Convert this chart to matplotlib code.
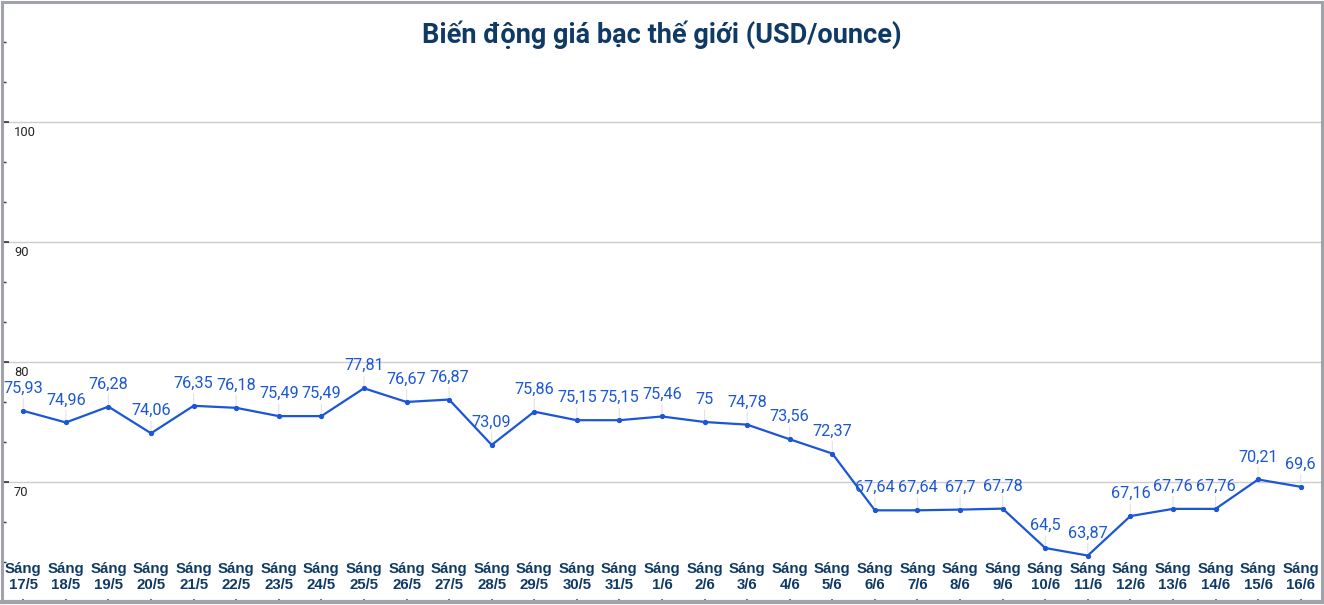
import matplotlib
matplotlib.use("Agg")
import matplotlib.pyplot as plt
from matplotlib.ticker import MultipleLocator, FixedLocator

# ---- data ----
dates = ["17/5", "18/5", "19/5", "20/5", "21/5", "22/5", "23/5", "24/5", "25/5", "26/5",
         "27/5", "28/5", "29/5", "30/5", "31/5", "1/6", "2/6", "3/6", "4/6", "5/6",
         "6/6", "7/6", "8/6", "9/6", "10/6", "11/6", "12/6", "13/6", "14/6", "15/6", "16/6"]
prices = [75.93, 74.96, 76.28, 74.06, 76.35, 76.18, 75.49, 75.49, 77.81, 76.67,
          76.87, 73.09, 75.86, 75.15, 75.15, 75.46, 75.0, 74.78, 73.56, 72.37,
          67.64, 67.64, 67.7, 67.78, 64.5, 63.87, 67.16, 67.76, 67.76, 70.21, 69.6]
price_labels = ["75,93", "74,96", "76,28", "74,06", "76,35", "76,18", "75,49", "75,49", "77,81", "76,67",
                "76,87", "73,09", "75,86", "75,15", "75,15", "75,46", "75", "74,78", "73,56", "72,37",
                "67,64", "67,64", "67,7", "67,78", "64,5", "63,87", "67,16", "67,76", "67,76", "70,21", "69,6"]
ytick_values = [70, 80, 90, 100]
title = "Biến động giá bạc thế giới (USD/ounce)"

W, H = 1324, 605
fig = plt.figure(figsize=(W / 100, H / 100), dpi=100)
ax = fig.add_axes([2 / W, 3 / H, 1320 / W, 600 / H])

line_color = "#1a56d6"
navy = "#0f3a66"
border = "#a0a4aa"

x = list(range(len(prices)))
ax.set_xlim(-0.5, len(prices) - 0.5)
ax.set_ylim(60, 110)

for v in ytick_values:
    ax.axhline(v, color="#cccccc", lw=1.0, zorder=1)
    ax.annotate(str(v), xy=(0, v), xycoords=("axes fraction", "data"),
                xytext=(12, -4), textcoords="offset pixels", ha="left", va="top",
                fontsize=9.3, color="#222222", family="Roboto")

ax.plot(x, prices, color=line_color, lw=1.6, marker="o", markersize=2.8, zorder=3)

for xi, yi, lab in zip(x, prices, price_labels):
    ax.annotate(lab, xy=(xi, yi), xytext=(0, 18), textcoords="offset pixels",
                ha="center", va="baseline", fontsize=11.7, color=line_color,
                family="Roboto", zorder=4,
                arrowprops=dict(arrowstyle="-", color="#e2e2e2", lw=0.8,
                                shrinkA=0, shrinkB=2))

for xi, d in zip(x, dates):
    ax.annotate("Sáng\n" + d, xy=(xi, 60), xytext=(0, 25), textcoords="offset pixels",
                ha="center", va="center", fontsize=10.8, fontweight="bold",
                color=navy, family="Liberation Sans", linespacing=1.2)

fig.text(0.5, 1 - 35 / H, title, ha="center", va="center", fontsize=19.5,
         fontweight="bold", color=navy, family="Roboto")

# ticks
ax.yaxis.set_major_locator(FixedLocator(ytick_values))
ax.yaxis.set_minor_locator(MultipleLocator(10 / 3))
ax.tick_params(axis="y", which="major", direction="in", length=5, width=1.2,
               color="#333333", labelleft=False)
ax.tick_params(axis="y", which="minor", direction="in", length=3, width=1.0,
               color="#333333")
ax.set_xticks(x)
ax.tick_params(axis="x", which="major", direction="in", length=2, width=1.2,
               color="#555555", labelbottom=False)

for s in ax.spines.values():
    s.set_color(border)
    s.set_linewidth(2.2)
ax.spines["bottom"].set_linewidth(3.0)

fig.savefig("out.png", dpi=100)
